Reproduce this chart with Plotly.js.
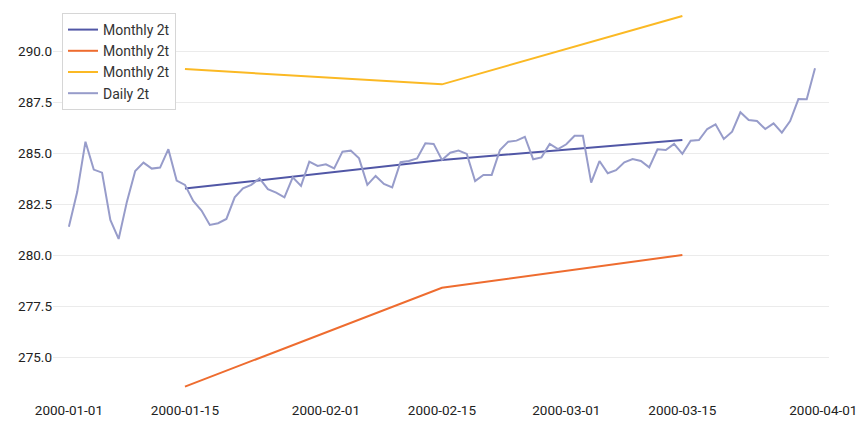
<!DOCTYPE html>
<html>
<head>
<meta charset="utf-8">
<script src="https://cdn.plot.ly/plotly-3.0.1.min.js"></script>
<style>html,body{margin:0;padding:0;background:#fff;}#chart{width:867px;height:428px;}</style>
</head>
<body>
<div id="chart"></div>
<script>
const dailyStart = '2000-01-01';
const dailyValues = [
  281.40, 283.10, 285.57, 284.20, 284.05, 281.73, 280.80, 282.63, 284.13, 284.54,
  284.25, 284.30, 285.20, 283.66, 283.45, 282.66, 282.19, 281.49, 281.57, 281.78,
  282.84, 283.28, 283.45, 283.77, 283.24, 283.07, 282.84, 283.82, 283.40, 284.59,
  284.38, 284.46, 284.26, 285.08, 285.13, 284.75, 283.45, 283.89, 283.50, 283.33,
  284.56, 284.62, 284.75, 285.49, 285.46, 284.67, 285.03, 285.13, 284.97, 283.64,
  283.94, 283.94, 285.16, 285.57, 285.62, 285.81, 284.71, 284.80, 285.46, 285.21,
  285.44, 285.86, 285.86, 283.56, 284.62, 284.02, 284.17, 284.56, 284.72, 284.62,
  284.31, 285.20, 285.16, 285.46, 284.97, 285.62, 285.65, 286.19, 286.42, 285.70,
  286.06, 287.01, 286.63, 286.58, 286.19, 286.47, 286.01, 286.58, 287.66, 287.65,
  289.17
];
const monthlyDates = ['2000-01-15', '2000-02-15', '2000-03-15'];
const monthlyMean = [283.27, 284.67, 285.65];
const monthlyMin = [273.56, 278.41, 280.01];
const monthlyMax = [289.13, 288.38, 291.73];
const yTickVals = [275, 277.5, 280, 282.5, 285, 287.5, 290];
const xTickVals = ['2000-01-01', '2000-01-15', '2000-02-01', '2000-02-15', '2000-03-01', '2000-03-15', '2000-04-01'];

const dailyDates = [];
{
  const t0 = Date.UTC(2000, 0, 1);
  for (let i = 0; i < dailyValues.length; i++) {
    dailyDates.push(new Date(t0 + i * 86400000).toISOString().slice(0, 10));
  }
}

const traces = [
  {x: monthlyDates, y: monthlyMean, mode: 'lines', name: 'Monthly 2t', line: {color: '#5157a6', width: 2}},
  {x: monthlyDates, y: monthlyMin, mode: 'lines', name: 'Monthly 2t', line: {color: '#ee6c2f', width: 2}},
  {x: monthlyDates, y: monthlyMax, mode: 'lines', name: 'Monthly 2t', line: {color: '#fbb924', width: 2}},
  {x: dailyDates, y: dailyValues, mode: 'lines', name: 'Daily 2t', line: {color: '#979cca', width: 2}}
];

const layout = {
  width: 867, height: 428,
  margin: {l: 53, r: 38, t: 5, b: 33},
  paper_bgcolor: '#fff', plot_bgcolor: '#fff',
  font: {family: 'Roboto, sans-serif', size: 13.5, color: '#222'},
  showlegend: true,
  legend: {x: 0.0116, y: 0.9795, xanchor: 'left', yanchor: 'top', bgcolor: '#fff',
           bordercolor: '#d6d6d6', borderwidth: 1, font: {size: 14, color: '#333'}},
  xaxis: {type: 'date', range: ['1999-12-30 02:00', '2000-04-01 16:30'],
          tickvals: xTickVals, ticktext: xTickVals, showgrid: false, zeroline: false,
          showline: false, ticks: '', ticklabelstandoff: 5},
  yaxis: {range: [273.15, 292.27], tickvals: yTickVals, tickformat: '.1f',
          showgrid: true, gridcolor: '#ebebeb', gridwidth: 1, zeroline: false, showline: false, ticks: ''}
};

Plotly.newPlot('chart', traces, layout, {displayModeBar: false, staticPlot: true});
</script>
</body>
</html>
